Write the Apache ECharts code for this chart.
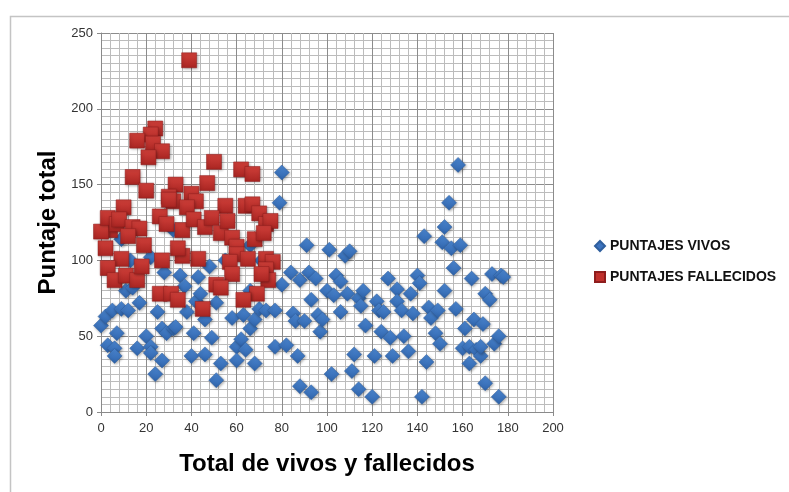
<!DOCTYPE html>
<html>
<head>
<meta charset="utf-8">
<script src="https://cdn.jsdelivr.net/npm/echarts@6/dist/echarts.min.js"></script>
<style>
  html, body { margin: 0; padding: 0; background: #fff; }
  #chart { width: 789px; height: 492px; }
</style>
</head>
<body>
<div id="chart"></div>
<script>
// [total, puntaje] pairs
var vivos = [
  [0, 57], [2, 63], [5, 67], [3, 44], [6, 42], [6, 37], [7, 52], [9, 68], [12, 67], [11, 80],
  [9, 114], [16, 42], [17, 72], [20, 50], [22, 43], [22, 39], [24, 25], [22, 102], [25, 66], [27, 55],
  [27, 34], [28, 92], [29, 52], [32, 55], [33, 56], [32, 120], [35, 90], [37, 83], [38, 66], [41, 52],
  [40, 37], [42, 73], [43, 89], [44, 78], [46, 61], [46, 38], [48, 96], [49, 49], [51, 72], [51, 21],
  [53, 32], [58, 62], [60, 43], [60, 34], [62, 48], [64, 41], [66, 55], [63, 64], [66, 80], [68, 61],
  [68, 32], [70, 68], [71, 100], [73, 67], [77, 67], [77, 43], [79, 138], [80, 158], [80, 84], [82, 44],
  [84, 92], [85, 65], [86, 60], [87, 37], [88, 87], [88, 17], [90, 60], [91, 110], [92, 92], [93, 13],
  [93, 74], [95, 88], [96, 64], [97, 53], [98, 61], [100, 80], [101, 107], [102, 25], [103, 77], [104, 90],
  [106, 66], [106, 86], [108, 103], [110, 106], [109, 78], [111, 27], [112, 38], [114, 15], [114, 75], [115, 70],
  [116, 80], [117, 57], [120, 10], [121, 37], [122, 73], [123, 67], [124, 53], [125, 66], [127, 88], [128, 49],
  [129, 37], [131, 81], [131, 73], [133, 67], [134, 50], [136, 40], [137, 78], [138, 65], [140, 90], [141, 85],
  [142, 10], [143, 116], [144, 33], [145, 69], [146, 62], [148, 52], [149, 67], [150, 45], [151, 112], [152, 80],
  [152, 122], [154, 138], [155, 108], [156, 95], [158, 163], [157, 68], [159, 110], [160, 42], [161, 55], [163, 43],
  [163, 32], [164, 88], [165, 61], [166, 41], [168, 37], [168, 43], [169, 58], [170, 19], [170, 78], [172, 74],
  [173, 91], [174, 45], [176, 50], [176, 10], [177, 90], [178, 89], [13, 100], [55, 100], [66, 110], [14, 82]
]

var fallecidos = [
  [39, 232], [24, 187], [22, 183], [16, 179], [23, 177], [27, 172], [21, 168], [14, 155], [20, 146], [50, 165],
  [33, 150], [30, 142], [32, 139], [40, 144], [42, 139], [47, 151], [62, 160], [67, 157], [64, 136], [67, 137],
  [55, 136], [38, 135], [4, 120], [0, 119], [3, 128], [7, 124], [10, 135], [8, 127], [14, 122], [17, 121],
  [12, 116], [19, 110], [2, 108], [9, 101], [3, 95], [6, 87], [11, 90], [16, 87], [18, 96], [26, 129],
  [29, 124], [36, 120], [41, 127], [46, 122], [49, 128], [53, 118], [56, 126], [58, 115], [60, 109], [60, 104],
  [57, 99], [58, 91], [65, 101], [70, 131], [73, 124], [75, 126], [68, 114], [72, 118], [73, 101], [76, 99],
  [73, 94], [74, 87], [71, 91], [69, 78], [63, 74], [51, 84], [53, 82], [43, 101], [36, 103], [34, 108],
  [27, 100], [26, 78], [31, 78], [34, 74], [45, 68], [30, 140]
]

var seriesNames = ['PUNTAJES VIVOS', 'PUNTAJES FALLECIDOS']

function shade (top, bottom) {
  return new echarts.graphic.LinearGradient(0, 0, 0, 1, [
    { offset: 0, color: top },
    { offset: 1, color: bottom }
  ])
}

var chart = echarts.init(document.getElementById('chart'))

var option = {
  animation: false,
  textStyle: { fontFamily: 'Liberation Sans' },
  graphic: [{
    type: 'rect',
    shape: { x: 10.5, y: 16.5, width: 800, height: 500 },
    style: { fill: 'none', stroke: '#c4c4c4', lineWidth: 1.5 },
    silent: true
  }],
  grid: { left: 101, top: 33, width: 452, height: 379 },
  legend: {
    orient: 'vertical',
    left: 589,
    top: 234,
    itemWidth: 10,
    itemHeight: 10,
    itemGap: 17,
    textStyle: { fontSize: 14, fontWeight: 'bold', color: '#111', lineHeight: 14 },
    data: [
      { name: seriesNames[0], icon: 'diamond', itemStyle: { color: '#3d74bf', opacity: 1 } },
      { name: seriesNames[1], icon: 'rect', itemStyle: { color: '#c0302c', opacity: 1 } }
    ]
  },
  xAxis: {
    type: 'value',
    min: 0,
    max: 200,
    interval: 20,
    name: 'Total de vivos y fallecidos',
    nameLocation: 'middle',
    nameGap: 40,
    nameTextStyle: { fontSize: 24, fontWeight: 'bold', color: '#000' },
    axisLine: { show: true, lineStyle: { color: '#8a8a8a' } },
    axisTick: { show: true, length: 4, lineStyle: { color: '#8a8a8a' } },
    axisLabel: { fontSize: 13, color: '#333', margin: 10 },
    splitLine: { show: true, lineStyle: { color: '#8c8c8c', width: 1 } },
    minorTick: { show: false, splitNumber: 5 },
    minorSplitLine: { show: true, lineStyle: { color: '#bcbcbc', width: 1 } }
  },
  yAxis: {
    type: 'value',
    min: 0,
    max: 250,
    interval: 50,
    name: 'Puntaje total',
    nameLocation: 'middle',
    nameGap: 41,
    nameTextStyle: { fontSize: 24, fontWeight: 'bold', color: '#000' },
    axisLine: { show: true, lineStyle: { color: '#8a8a8a' } },
    axisTick: { show: true, length: 4, lineStyle: { color: '#8a8a8a' } },
    axisLabel: { fontSize: 13, color: '#333', margin: 8 },
    splitLine: { show: true, lineStyle: { color: '#8c8c8c', width: 1 } },
    minorTick: { show: false, splitNumber: 10 },
    minorSplitLine: { show: true, lineStyle: { color: '#bcbcbc', width: 1 } }
  },
  series: [
    {
      name: seriesNames[0],
      type: 'scatter',
      symbol: 'diamond',
      symbolSize: 15,
      data: vivos,
      itemStyle: {
        opacity: 1,
        color: shade('#4c87d2', '#2f64ab'),
        borderColor: '#2f5f9e',
        borderWidth: 0.5,
        shadowBlur: 3,
        shadowColor: 'rgba(0,0,0,0.35)',
        shadowOffsetX: 1,
        shadowOffsetY: 1
      }
    },
    {
      name: seriesNames[1],
      type: 'scatter',
      symbol: 'rect',
      symbolSize: 15,
      data: fallecidos,
      itemStyle: {
        opacity: 1,
        color: shade('#d1403a', '#a92522'),
        borderColor: '#8e1d1d',
        borderWidth: 0.5,
        shadowBlur: 3,
        shadowColor: 'rgba(0,0,0,0.35)',
        shadowOffsetX: 1,
        shadowOffsetY: 1
      }
    }
  ]
}

chart.setOption(option)
</script>
</body>
</html>
